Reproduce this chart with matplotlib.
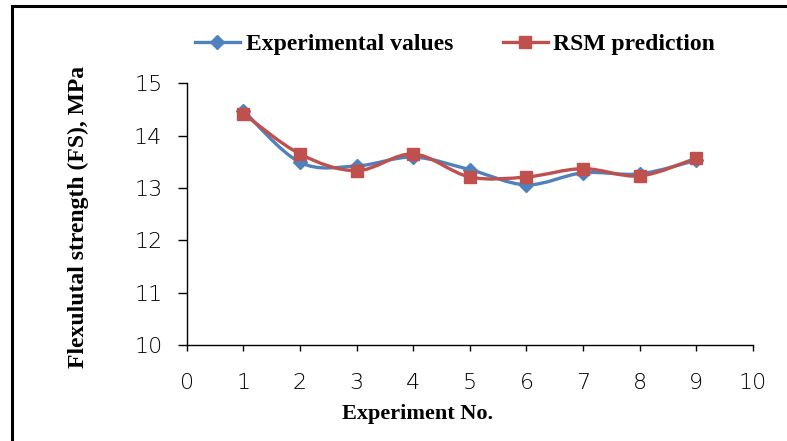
import matplotlib.pyplot as plt
import numpy as np
from matplotlib.path import Path
from matplotlib.patches import PathPatch, Rectangle
from matplotlib.lines import Line2D

# data
experiment_no = [1, 2, 3, 4, 5, 6, 7, 8, 9]
experimental = [14.48, 13.49, 13.42, 13.59, 13.35, 13.06, 13.29, 13.27, 13.53]
rsm_pred = [14.42, 13.65, 13.33, 13.65, 13.21, 13.21, 13.37, 13.23, 13.57]

blue = '#4F81BD'
red = '#C0504D'
serif = ['Liberation Serif', 'DejaVu Serif']


def smooth_path(x, y, t=1/6):
    # Excel-like smoothed line: Catmull-Rom converted to cubic Bezier
    x = np.asarray(x, float)
    y = np.asarray(y, float)
    verts = [(x[0], y[0])]
    codes = [Path.MOVETO]
    n = len(x)
    for i in range(n - 1):
        i0 = max(i - 1, 0)
        i3 = min(i + 2, n - 1)
        c1 = (x[i] + (x[i + 1] - x[i0]) * t, y[i] + (y[i + 1] - y[i0]) * t)
        c2 = (x[i + 1] - (x[i3] - x[i]) * t, y[i + 1] - (y[i3] - y[i]) * t)
        verts += [c1, c2, (x[i + 1], y[i + 1])]
        codes += [Path.CURVE4] * 3
    return Path(verts, codes)


fig = plt.figure(figsize=(7.87, 4.41), dpi=100)
ax = fig.add_axes([0.2372, 0.2177, 0.7196, 0.5934])

for yy, col, mk, ms in [(experimental, blue, 'D', 7.5), (rsm_pred, red, 's', 8)]:
    ax.add_patch(PathPatch(smooth_path(experiment_no, yy), facecolor='none',
                           edgecolor=col, lw=2.4, zorder=2))
    ax.plot(experiment_no, yy, ls='none', marker=mk, ms=ms, color=col,
            mec=col, zorder=3)

ax.set_xlim(0, 10)
ax.set_ylim(10, 15)
ax.set_xticks(range(0, 11))
ax.set_yticks(range(10, 16))
ax.tick_params(axis='both', direction='out', labelsize=16, width=1,
               colors='black')
ax.tick_params(axis='y', length=6.5, pad=11)
ax.tick_params(axis='x', length=4.5, pad=16)
for lab in ax.get_xticklabels() + ax.get_yticklabels():
    lab.set_fontfamily('DejaVu Sans')
    lab.set_fontweight('light')
for s in ['top', 'right']:
    ax.spines[s].set_visible(False)
for s in ['left', 'bottom']:
    ax.spines[s].set_linewidth(1)

ax.set_xlabel('Experiment No.', fontfamily=serif, fontweight='bold',
              fontsize=16)
ax.xaxis.set_label_coords(0.408, -0.225)
ax.set_ylabel('Flexulutal strength (FS), MPa', fontfamily=serif,
              fontweight='bold', fontsize=17)
ax.yaxis.set_label_coords(-0.172, 0.49)

handles = [Line2D([], [], color=blue, lw=2.4, marker='D', ms=7.5),
           Line2D([], [], color=red, lw=2.4, marker='s', ms=8)]
fig.legend(handles, ['Experimental values', 'RSM prediction'], ncol=2,
           loc='center left', bbox_to_anchor=(195 / 787, 1 - 44 / 441),
           frameon=False, borderpad=0, borderaxespad=0,
           prop={'family': serif, 'weight': 'bold', 'size': 17},
           handlelength=1.9, handletextpad=0.25, columnspacing=2.1)

# outer chart border (only top and left visible in the crop)
fig.patches.append(Rectangle((12 / 787, -0.1), 1.2, 1.1 - 6 / 441,
                             transform=fig.transFigure, fill=False,
                             edgecolor='black', lw=2.2))

plt.savefig('out.png', dpi=100)
